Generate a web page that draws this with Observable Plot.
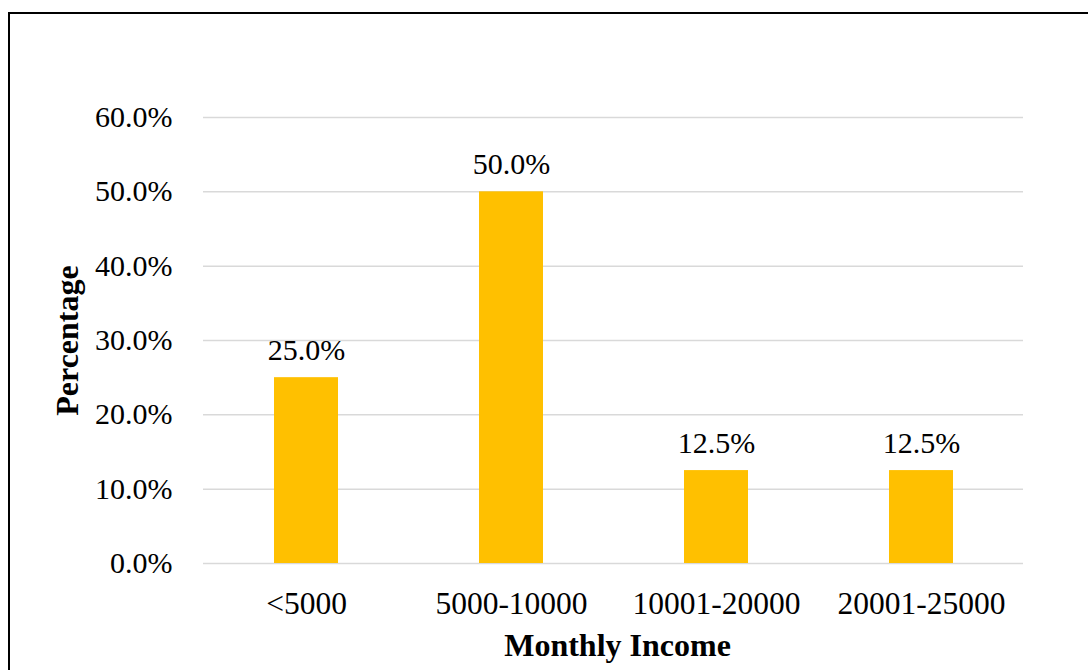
<!DOCTYPE html>
<html>
<head>
<meta charset="utf-8">
<script src="https://cdn.jsdelivr.net/npm/d3@7"></script>
<script src="https://cdn.jsdelivr.net/npm/@observablehq/plot@0.6"></script>
<style>
  html, body { margin: 0; padding: 0; background: #fff; overflow: hidden; }
  #wrap { position: relative; width: 1088px; height: 670px; }
  #border { position: absolute; left: 8px; top: 12px; width: 1200px; height: 800px; border: 2px solid #000; box-sizing: border-box; pointer-events: none; }
  #chart { position: absolute; left: 0; top: 0; }
  #chart svg, #chart svg text { font-family: "Liberation Serif", "Times New Roman", serif !important; }
  #chart g[aria-label="y-axis label"] text, #chart g[aria-label="x-axis label"] text { font-weight: bold; font-size: 32px; }
</style>
</head>
<body>
<div id="wrap">
  <div id="chart"></div>
  <div id="border"></div>
</div>
<script>
const categories = ["<5000", "5000-10000", "10001-20000", "20001-25000"];
const percentages = [0.25, 0.5, 0.125, 0.125];
const yTicks = [0, 0.1, 0.2, 0.3, 0.4, 0.5, 0.6];
const xLabel = "Monthly Income";
const yLabel = "Percentage";

const data = categories.map((c, i) => ({category: c, value: percentages[i]}));
const fmt = d3.format(".1%");
const font = "Liberation Serif";

const chart = Plot.plot({
  width: 1088,
  height: 670,
  marginLeft: 203,
  marginRight: 65,
  marginTop: 117,
  marginBottom: 107,
  style: {fontFamily: font, fontSize: "30px", color: "#000", background: "transparent"},
  x: {domain: categories, paddingInner: 0.688, paddingOuter: 0.344},
  y: {domain: [0, 0.6]},
  marks: [
    Plot.gridY(yTicks, {stroke: "#d9d9d9", strokeOpacity: 1, strokeWidth: 1.5}),
    Plot.barY(data, {x: "category", y: "value", fill: "#FFC000"}),
    Plot.text(data, {x: "category", y: "value", text: d => fmt(d.value), lineAnchor: "bottom", dy: -18, fontSize: 30, fontFamily: font, fill: "#000"}),
    Plot.axisY({ticks: yTicks, tickFormat: fmt, tickSize: 0, tickPadding: 31, fontSize: 30, fontFamily: font, fontVariant: "normal",
      label: yLabel, labelAnchor: "center", labelArrow: "none", labelOffset: 148}),
    Plot.axisX({tickSize: 0, tickPadding: 28, fontSize: 31.5, fontFamily: font, fontVariant: "normal",
      label: xLabel, labelAnchor: "center", labelArrow: "none", labelOffset: 92})
  ]
});
d3.select(chart).selectAll('g[aria-label="x-axis label"] text').attr("dx", 4);
document.getElementById("chart").appendChild(chart);
</script>
</body>
</html>
